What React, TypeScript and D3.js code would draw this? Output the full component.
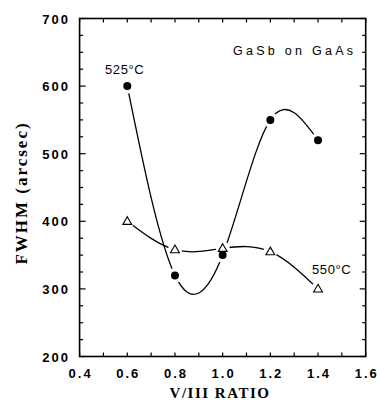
import * as d3 from "d3";

const ratio = [0.6, 0.8, 1.0, 1.2, 1.4];
const fwhm525 = [600, 320, 350, 550, 520];
const fwhm550 = [400, 358, 360, 355, 300];
const xTicks = [0.4, 0.6, 0.8, 1.0, 1.2, 1.4, 1.6];
const yTicks = [200, 300, 400, 500, 600, 700];

const width = 380;
const height = 410;
const left = 79.6;
const right = 365.7;
const top = 18.5;
const bottom = 356.5;

export default function App() {
  const x = d3.scaleLinear().domain([0.4, 1.6]).range([left, right]);
  const y = d3.scaleLinear().domain([200, 700]).range([bottom, top]);

  const line = d3
    .line<[number, number]>()
    .x((d) => x(d[0]))
    .y((d) => y(d[1]))
    .curve(d3.curveNatural);

  const pts525 = ratio.map((r, i) => [r, fwhm525[i]] as [number, number]);
  const pts550 = ratio.map((r, i) => [r, fwhm550[i]] as [number, number]);

  const xMinor = d3.range(0.4, 1.6001, 0.1);
  const yMinor = d3.range(200, 700.001, 25);

  const tri = d3.symbol().type(d3.symbolTriangle).size(34)() as string;

  const tickFont = {
    fontFamily: "Liberation Sans, Arial, sans-serif",
    fontWeight: 700,
    fontSize: 13,
    letterSpacing: 2,
  };

  return (
    <svg
      width={width}
      height={height}
      style={{ position: "absolute", left: 0, top: 0, background: "#fff" }}
    >
      {/* frame */}
      <rect
        x={left}
        y={top}
        width={right - left}
        height={bottom - top}
        fill="none"
        stroke="#000"
        strokeWidth={1.6}
      />

      {/* ticks */}
      {xMinor.map((v, i) => (
        <g key={"xt" + i} stroke="#000" strokeWidth={1.2}>
          <line x1={x(v)} x2={x(v)} y1={bottom} y2={bottom - 4} />
          <line x1={x(v)} x2={x(v)} y1={top} y2={top + 4} />
        </g>
      ))}
      {yMinor.map((v, i) => {
        const len = Math.round(v) % 100 === 0 ? 6 : 3.5;
        return (
          <g key={"yt" + i} stroke="#000" strokeWidth={1.2}>
            <line x1={left} x2={left + len} y1={y(v)} y2={y(v)} />
            <line x1={right} x2={right - len} y1={y(v)} y2={y(v)} />
          </g>
        );
      })}

      {/* tick labels */}
      {xTicks.map((v) => (
        <text key={"xl" + v} x={x(v) + 1} y={378} textAnchor="middle" {...tickFont}>
          {v.toFixed(1)}
        </text>
      ))}
      {yTicks.map((v) => (
        <text key={"yl" + v} x={70} y={y(v) + 5} textAnchor="end" {...tickFont}>
          {v}
        </text>
      ))}

      {/* axis titles */}
      <text
        x={220}
        y={398}
        textAnchor="middle"
        fontFamily="Liberation Serif, Times New Roman, serif"
        fontWeight={700}
        fontSize={15}
        letterSpacing={1.5}
      >
        V/III RATIO
      </text>
      <text
        transform="translate(27,193) rotate(-90)"
        textAnchor="middle"
        fontFamily="Liberation Serif, Times New Roman, serif"
        fontWeight={700}
        fontSize={17}
        letterSpacing={2}
      >
        FWHM (arcsec)
      </text>

      {/* curves */}
      <path d={line(pts525) ?? ""} fill="none" stroke="#000" strokeWidth={1.3} />
      <path d={line(pts550) ?? ""} fill="none" stroke="#000" strokeWidth={1.3} />

      {/* halos to break lines near markers */}
      {pts525.map((d, i) => (
        <circle key={"h1" + i} cx={x(d[0])} cy={y(d[1])} r={7.5} fill="#fff" />
      ))}
      {pts550.map((d, i) => (
        <circle key={"h2" + i} cx={x(d[0])} cy={y(d[1])} r={7} fill="#fff" />
      ))}

      {/* markers */}
      {pts525.map((d, i) => (
        <circle key={"m1" + i} cx={x(d[0])} cy={y(d[1])} r={4} fill="#000" />
      ))}
      {pts550.map((d, i) => (
        <path
          key={"m2" + i}
          d={tri}
          transform={`translate(${x(d[0])},${y(d[1]) + 0.5})`}
          fill="#fff"
          stroke="#000"
          strokeWidth={1.1}
        />
      ))}

      {/* annotations */}
      <text
        x={233}
        y={55}
        textLength={120}
        lengthAdjust="spacing"
        fontFamily="Liberation Sans, Arial, sans-serif"
        fontSize={12.5}
      >
        GaSb on GaAs
      </text>
      <text x={105} y={74} fontFamily="Liberation Sans, Arial, sans-serif" fontSize={13} letterSpacing={0.6}>
        525°C
      </text>
      <text x={312} y={274} fontFamily="Liberation Sans, Arial, sans-serif" fontSize={13} letterSpacing={0.6}>
        550°C
      </text>
    </svg>
  );
}
